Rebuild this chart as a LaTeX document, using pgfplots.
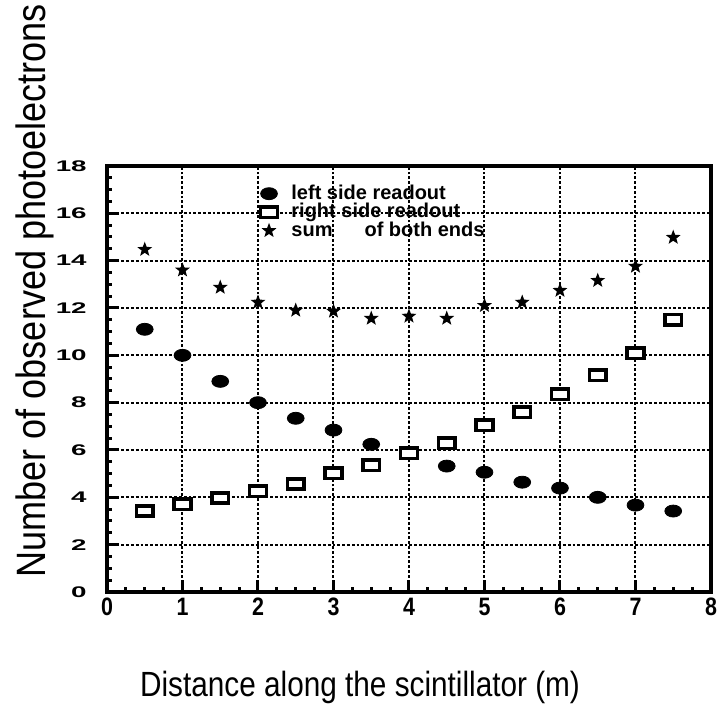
\documentclass[border=0pt]{standalone}
\usepackage{fontspec}
\setmainfont{Liberation Sans}
\usepackage{pgfplots}
\pgfplotsset{compat=1.18}
\usepackage{graphicx}

\pgfdeclareplotmark{fstar}{%
  \pgfpathmoveto{\pgfpointpolar{90}{\pgfplotmarksize}}%
  \pgfpathlineto{\pgfpointpolar{126}{0.42*\pgfplotmarksize}}%
  \pgfpathlineto{\pgfpointpolar{162}{\pgfplotmarksize}}%
  \pgfpathlineto{\pgfpointpolar{198}{0.42*\pgfplotmarksize}}%
  \pgfpathlineto{\pgfpointpolar{234}{\pgfplotmarksize}}%
  \pgfpathlineto{\pgfpointpolar{270}{0.42*\pgfplotmarksize}}%
  \pgfpathlineto{\pgfpointpolar{306}{\pgfplotmarksize}}%
  \pgfpathlineto{\pgfpointpolar{342}{0.42*\pgfplotmarksize}}%
  \pgfpathlineto{\pgfpointpolar{18}{\pgfplotmarksize}}%
  \pgfpathlineto{\pgfpointpolar{54}{0.42*\pgfplotmarksize}}%
  \pgfpathclose
  \pgfusepathqfill}

\begin{document}
\begin{tikzpicture}
\path[use as bounding box] (-53.5pt,-57pt) rectangle (306pt,296pt);
\begin{axis}[
  at={(0,0)}, anchor=south west,
  scale only axis, width=302pt, height=213pt,
  xmin=0, xmax=8, ymin=0, ymax=18, clip=false,
  xtick={0,1,...,8}, ytick={0,2,...,18},
  minor x tick num=3, minor y tick num=3,
  tick align=inside, tick pos=left,
  major tick length=6pt, minor tick length=2.5pt,
  tick style={black, line width=1.5pt},
  axis line style={line width=2.2pt},
  grid=major,
  major grid style={black, line width=1pt, dash pattern=on 1.4pt off 1pt},
  /pgf/number format/assume math mode=true,
  xticklabel={\scalebox{0.85}[1]{\bfseries\fontsize{12.6}{13}\selectfont\pgfmathprintnumber{\tick}}},
  yticklabel={\scalebox{1.8}[1]{\bfseries\fontsize{7.7}{8}\selectfont\pgfmathprintnumber{\tick}}},
  xticklabel style={inner sep=0pt, anchor=north, yshift=-3pt},
  yticklabel style={inner sep=0pt, anchor=east, xshift=-10pt},
  xlabel={\scalebox{0.85}[1]{\fontsize{17.5}{20}\selectfont Distance along the scintillator (m)}},
  xlabel style={at={(axis description cs:0.419,-0.245)}, anchor=base, inner sep=0pt},
  ylabel={\scalebox{0.88}[1]{\fontsize{20.5}{24}\selectfont Number of observed photoelectrons}},
  ylabel style={at={(axis description cs:-0.1026,0.0329)}, anchor=base west, inner sep=0pt},
  legend style={at={(axis cs:1.95,17.47)}, anchor=north west, draw=none, fill=none,
    font=\bfseries\fontsize{10}{10}\selectfont, row sep=-1.5pt, column sep=6pt, nodes={inner sep=1pt}},
  legend cell align=left,
  after end axis/.code={\draw[line width=2.4pt, line cap=rect] (rel axis cs:0,0) rectangle (rel axis cs:1,1);},
]
\addplot[only marks, mark=*, mark size=3pt, mark options={xscale=1.4, fill=black, draw=black}] coordinates {
(0.5,11.1) (1,10.0) (1.5,8.9) (2,8.0) (2.5,7.34) (3,6.84) (3.5,6.24) (4,5.9)
(4.5,5.32) (5,5.06) (5.5,4.64) (6,4.39) (6.5,4.0) (7,3.67) (7.5,3.42)};
\addlegendentry{left side readout}
\addplot[only marks, mark=square*, mark size=2.6pt, mark options={xscale=1.6, fill=white, draw=black, line width=1.8pt}] coordinates {
(0.5,3.42) (1,3.7) (1.5,3.97) (2,4.26) (2.5,4.56) (3,5.02) (3.5,5.36) (4,5.86)
(4.5,6.29) (5,7.05) (5.5,7.6) (6,8.35) (6.5,9.16) (7,10.08) (7.5,11.5)};
\addlegendentry{right side readout}
\addplot[only marks, mark=fstar, mark size=3.9pt, mark options={fill=black}] coordinates {
(0.5,14.47) (1,13.6) (1.5,12.87) (2,12.24) (2.5,11.9) (3,11.86) (3.5,11.56) (4,11.65)
(4.5,11.56) (5,12.1) (5.5,12.24) (6,12.74) (6.5,13.16) (7,13.76) (7.5,14.98)};
\addlegendentry{sum\hspace{16pt}of both ends}
\end{axis}
\end{tikzpicture}
\end{document}
